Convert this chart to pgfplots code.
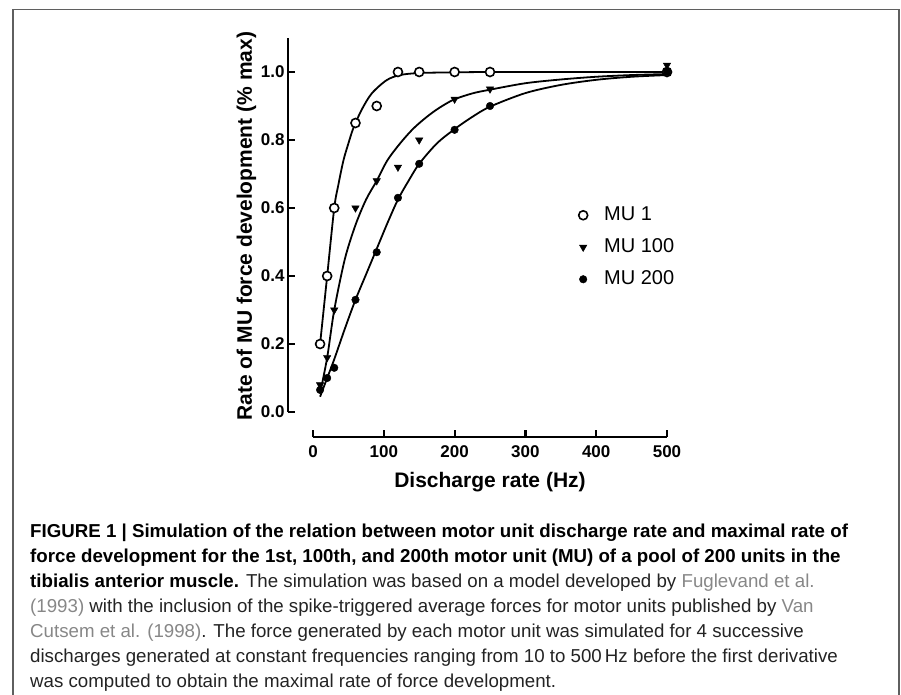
\documentclass[border=0pt]{standalone}
\usepackage{fontspec}
\setmainfont{Liberation Sans}
\usepackage{pgfplots}
\pgfplotsset{compat=1.18}
\definecolor{framegray}{RGB}{95,95,95}
\definecolor{refgray}{RGB}{135,135,135}
\definecolor{captext}{RGB}{35,35,35}

\begin{document}
\begin{tikzpicture}
\useasboundingbox (0pt,0pt) rectangle (901pt,-695pt);
% frame round the figure (open at the bottom)
\draw[framegray, line width=1.8pt] (13pt,-696pt) -- (13pt,-9.5pt) -- (899.3pt,-9.5pt) -- (899.3pt,-696pt);

\begin{axis}[
    scale only axis,
    width=354pt,
    height=374pt,
    at={(313pt,-412pt)},
    anchor=south west,
    xmin=0, xmax=500,
    ymin=0, ymax=1.1,
    clip=false,
    axis x line*=bottom,
    axis y line*=left,
    axis x line shift=25pt,
    axis y line shift=25pt,
    axis line style={line width=2.2pt, -},
    tick align=inside,
    major tick length=7pt,
    every tick/.style={line width=2.2pt, black},
    xtick={0,100,200,300,400,500},
    ytick={0,0.2,0.4,0.6,0.8,1.0},
    yticklabel style={/pgf/number format/.cd, fixed, fixed zerofill, precision=1},
    xticklabel style={yshift=-5pt},
    /pgf/number format/assume math mode=true,
    ticklabel style={font=\fontsize{17}{17}\selectfont\bfseries},
    xlabel={Discharge rate (Hz)},
    ylabel={Rate of MU force development (\% max)},
    label style={font=\fontsize{21}{21}\selectfont\bfseries},
    xlabel style={at={(axis description cs:0.5,-0.188)}, anchor=center},
    ylabel style={at={(axis description cs:-0.188,0.497)}, anchor=center, rotate=0},
    legend style={draw=none, fill=none, at={(axis description cs:0.7316,0.556)},
        anchor=north west, font=\fontsize{20}{20}\selectfont,
        nodes={inner sep=0pt, text height=14pt, text depth=4pt},
        row sep=14pt, column sep=0pt},
    legend cell align=left,
    legend image code/.code={%
        \path[draw=none, fill=none] (0pt,0pt) -- (29pt,0pt);
        \draw[#1] plot[only marks] coordinates {(8pt,0pt)};},
]

% fitted curves
\addplot[black, line width=1.8pt, smooth, forget plot] coordinates {
    (10,0.2) (20,0.4) (30,0.6) (36,0.67) (43,0.74) (50,0.79) (57,0.835)
    (69,0.89) (83,0.937) (104,0.976) (123,0.991) (150,0.997) (200,0.999)
    (250,1.0) (350,1.0) (500,1.0)
};
\addplot[black, line width=1.8pt, smooth, forget plot] coordinates {
    (10,0.055) (20,0.16) (30,0.30) (45,0.45) (60,0.55) (75,0.625) (90,0.68)
    (105,0.74) (123,0.79) (140,0.83) (156,0.86) (175,0.89) (198,0.918)
    (225,0.937) (250,0.948) (300,0.967) (350,0.978) (400,0.986) (450,0.991)
    (500,0.994)
};
\addplot[black, line width=1.8pt, smooth, forget plot] coordinates {
    (10,0.045) (20,0.10) (30,0.155) (45,0.245) (60,0.33) (75,0.405) (90,0.48)
    (105,0.555) (120,0.625) (135,0.68) (150,0.73) (175,0.79) (200,0.832)
    (225,0.868) (250,0.898) (300,0.938) (350,0.962) (400,0.977) (450,0.986)
    (500,0.991)
};

% data points
\addplot[only marks, mark=*, mark size=4.5pt, mark options={fill=white, draw=black, line width=1.6pt}] coordinates {
    (10,0.2) (20,0.4) (30,0.6) (60,0.85) (90,0.9) (120,1.0) (150,1.0) (200,1.0) (250,1.0) (500,1.0)
};
\addlegendentry{MU 1}
\addplot[only marks, mark=triangle*, mark size=4.3pt, mark options={fill=black, draw=black, rotate=180}] coordinates {
    (10,0.08) (20,0.16) (30,0.3) (60,0.6) (90,0.68) (120,0.72) (150,0.8) (200,0.92) (250,0.95) (500,1.02)
};
\addlegendentry{MU 100}
\addplot[only marks, mark=*, mark size=3.8pt, mark options={fill=black, draw=black}] coordinates {
    (10,0.065) (20,0.1) (30,0.13) (60,0.33) (90,0.47) (120,0.63) (150,0.73) (200,0.83) (250,0.9) (500,1.0)
};
\addlegendentry{MU 200}
\end{axis}

% caption
\begin{scope}[every node/.style={anchor=base west, inner sep=0pt, font=\fontsize{18.7}{22}\selectfont, text=captext}]
\node at (30pt,-537pt) {\bfseries\color{black}FIGURE 1 | Simulation of the relation between motor unit discharge rate and maximal rate of};
\node at (30pt,-562pt) {\bfseries\color{black}force development for the 1st, 100th, and 200th motor unit (MU) of a pool of 200 units in the};
\node at (30pt,-587pt) {{\bfseries\color{black}tibialis anterior muscle.} The simulation was based on a model developed by {\color{refgray}Fuglevand et al.}};
\node at (30pt,-612pt) {{\color{refgray}(1993)} with the inclusion of the spike-triggered average forces for motor units published by {\color{refgray}Van}};
\node at (30pt,-637pt) {{\color{refgray}Cutsem et al. (1998)}. The force generated by each motor unit was simulated for 4 successive};
\node at (30pt,-662pt) {discharges generated at constant frequencies ranging from 10 to 500\,Hz before the first derivative};
\node at (30pt,-687pt) {was computed to obtain the maximal rate of force development.};
\end{scope}
\end{tikzpicture}
\end{document}
